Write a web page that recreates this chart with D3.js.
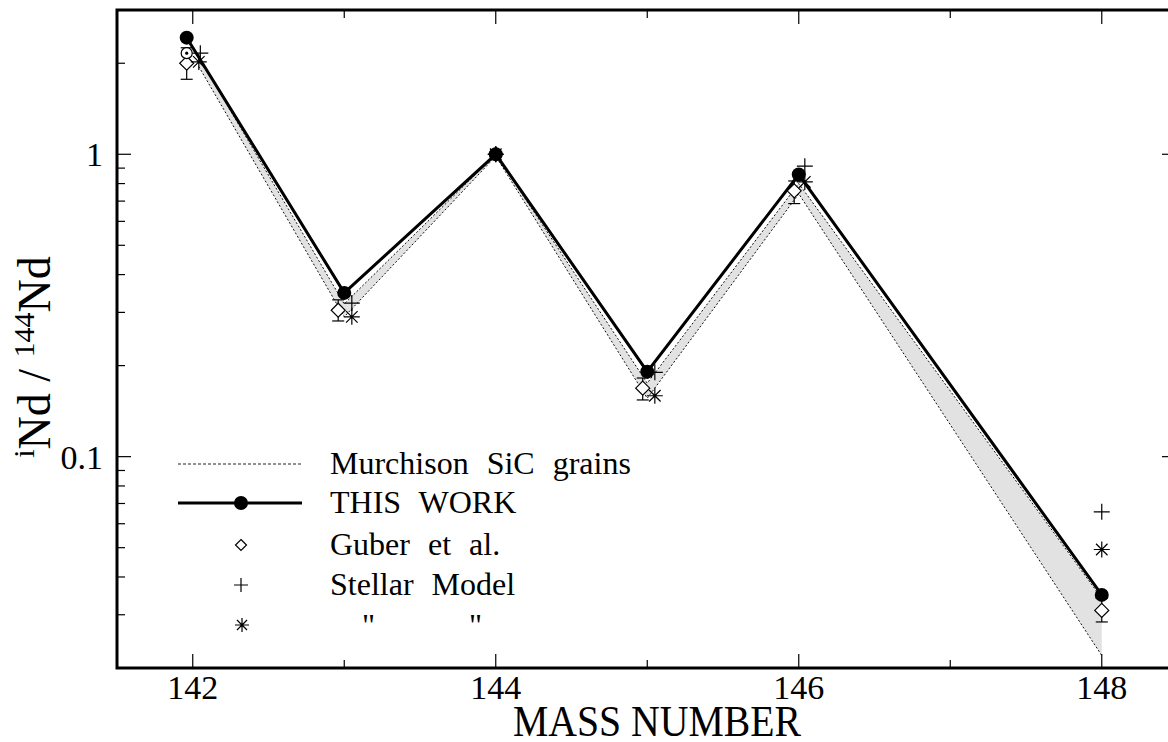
<!DOCTYPE html>
<meta charset="utf-8">
<html>
<head>
<style>
  body { margin: 0; background: #fff; }
  text { font-family: "Liberation Serif", "DejaVu Serif", serif; fill: #000; }
</style>
</head>
<body>
<div id="chart"></div>
<script src="https://d3js.org/d3.v7.min.js"></script>
<script>
  // ---- data ----
  var xMajorTicks = [142, 144, 146, 148];
  var xMinorTicks = [143, 145, 147];
  var yMajorTicks = [0.1, 1];
  var yMinorTicks = [0.02, 0.03, 0.04, 0.05, 0.06, 0.07, 0.08, 0.09,
                     0.2, 0.3, 0.4, 0.5, 0.6, 0.7, 0.8, 0.9, 2];

  // THIS WORK (filled circles, thick line)
  var massThisWork = [141.96, 143, 144, 145, 146, 148];
  var thisWork     = [2.43, 0.348, 1.0, 0.191, 0.857, 0.0349];

  // Guber et al. (open diamonds, error bars)
  var massGuber = [141.96, 142.96, 144, 144.97, 145.97, 148];
  var guber     = [2.0, 0.305, 1.0, 0.1685, 0.757, 0.031];
  var guberLow  = [1.77, 0.281, 0.98, 0.154, 0.687, 0.0284];
  var guberHigh = [2.25, 0.33, 1.02, 0.182, 0.816, 0.034];

  // Stellar model (+) and second stellar model (*)
  var massPlus = [142.05, 143.05, 144, 145.05, 146.04, 148];
  var plusVals = [2.16, 0.322, 1.0, 0.19, 0.913, 0.0657];
  var massStar = [142.04, 143.05, 144, 145.05, 146.04, 148];
  var starVals = [2.02, 0.29, 1.0, 0.159, 0.81, 0.0493];

  // Murchison SiC grains band
  var massMurchison = [142.04, 143, 144, 145, 146, 148];
  var murchisonHigh = [2.1, 0.32, 1.0, 0.175, 0.80, 0.034];
  var murchisonLow  = [1.95, 0.29, 0.985, 0.156, 0.74, 0.022];

  // dotted open circle at 142
  var massDotted = [141.96];
  var dottedVals = [2.16];

  // ---- layout ----
  var W = 1168, H = 742;
  var pL = 117, pR = 1176, pT = 10, pB = 668;

  var svg = d3.select("#chart").append("svg")
      .attr("width", W).attr("height", H);

  var x = d3.scaleLinear().domain([141.5, 148.49]).range([pL, pR]);
  var y = d3.scaleLog().domain([0.02, 3]).range([pB, pT]);

  function zip(ms, vs) { return ms.map(function(m, i) { return {m: m, v: vs[i]}; }); }

  // band
  var band = massMurchison.map(function(m, i) { return {m: m, lo: murchisonLow[i], hi: murchisonHigh[i]}; });
  svg.append("path")
    .datum(band)
    .attr("fill", "#e2e2e2")
    .attr("d", d3.area()
      .x(function(d) { return x(d.m); })
      .y0(function(d) { return y(d.lo); })
      .y1(function(d) { return y(d.hi); }));

  [murchisonHigh, murchisonLow].forEach(function(vals) {
    svg.append("path")
      .datum(zip(massMurchison, vals))
      .attr("fill", "none")
      .attr("stroke", "#111")
      .attr("stroke-width", 1)
      .attr("stroke-dasharray", "2,2")
      .attr("d", d3.line()
        .x(function(d) { return x(d.m); })
        .y(function(d) { return y(d.v); }));
  });

  // THIS WORK line
  svg.append("path")
    .datum(zip(massThisWork, thisWork))
    .attr("fill", "none")
    .attr("stroke", "#000")
    .attr("stroke-width", 3)
    .attr("d", d3.line()
      .x(function(d) { return x(d.m); })
      .y(function(d) { return y(d.v); }));

  // Guber error bars
  var gData = massGuber.map(function(m, i) { return {m: m, v: guber[i], lo: guberLow[i], hi: guberHigh[i]}; });
  var eb = svg.append("g").attr("stroke", "#000").attr("stroke-width", 1.2);
  gData.forEach(function(d) {
    var cx = x(d.m);
    eb.append("line").attr("x1", cx).attr("x2", cx).attr("y1", y(d.lo)).attr("y2", y(d.hi));
    eb.append("line").attr("x1", cx - 6).attr("x2", cx + 6).attr("y1", y(d.lo)).attr("y2", y(d.lo));
    eb.append("line").attr("x1", cx - 6).attr("x2", cx + 6).attr("y1", y(d.hi)).attr("y2", y(d.hi));
  });

  function diamondPath(cx, cy, s) {
    return "M" + cx + "," + (cy - s) + "L" + (cx + s) + "," + cy + "L" + cx + "," + (cy + s) + "L" + (cx - s) + "," + cy + "Z";
  }
  function plusPath(cx, cy, s) {
    return "M" + (cx - s) + "," + cy + "H" + (cx + s) + "M" + cx + "," + (cy - s) + "V" + (cy + s);
  }
  function starPath(cx, cy, s) {
    var d = s * 0.72;
    return plusPath(cx, cy, s) +
      "M" + (cx - d) + "," + (cy - d) + "L" + (cx + d) + "," + (cy + d) +
      "M" + (cx - d) + "," + (cy + d) + "L" + (cx + d) + "," + (cy - d);
  }

  svg.selectAll(".guber").data(gData).enter().append("path")
    .attr("fill", "#fff").attr("stroke", "#000").attr("stroke-width", 1.2)
    .attr("d", function(d) { return diamondPath(x(d.m), y(d.v), 7); });

  svg.selectAll(".dotted").data(zip(massDotted, dottedVals)).enter().append("circle")
    .attr("cx", function(d) { return x(d.m); }).attr("cy", function(d) { return y(d.v); })
    .attr("r", 5.5).attr("fill", "#fff").attr("stroke", "#000").attr("stroke-width", 1.2);
  svg.selectAll(".dotc").data(zip(massDotted, dottedVals)).enter().append("circle")
    .attr("cx", function(d) { return x(d.m); }).attr("cy", function(d) { return y(d.v); })
    .attr("r", 1.6).attr("fill", "#000");

  svg.selectAll(".plus").data(zip(massPlus, plusVals)).enter().append("path")
    .attr("fill", "none").attr("stroke", "#000").attr("stroke-width", 1.2)
    .attr("d", function(d) { return plusPath(x(d.m), y(d.v), 8); });

  svg.selectAll(".star").data(zip(massStar, starVals)).enter().append("path")
    .attr("fill", "none").attr("stroke", "#000").attr("stroke-width", 1.2)
    .attr("d", function(d) { return starPath(x(d.m), y(d.v), 8); });

  svg.selectAll(".tw").data(zip(massThisWork, thisWork)).enter().append("circle")
    .attr("cx", function(d) { return x(d.m); }).attr("cy", function(d) { return y(d.v); })
    .attr("r", 7).attr("fill", "#000");

  // ---- frame and ticks ----
  var ax = svg.append("g").attr("stroke", "#000");
  ax.append("rect")
    .attr("x", pL).attr("y", pT).attr("width", pR - pL).attr("height", pB - pT)
    .attr("fill", "none").attr("stroke-width", 3);

  function xTicks(vals, len) {
    vals.forEach(function(v) {
      ax.append("line").attr("x1", x(v)).attr("x2", x(v)).attr("y1", pB).attr("y2", pB - len).attr("stroke-width", 1.2);
      ax.append("line").attr("x1", x(v)).attr("x2", x(v)).attr("y1", pT).attr("y2", pT + len).attr("stroke-width", 1.2);
    });
  }
  xTicks(xMajorTicks, 14);
  xTicks(xMinorTicks, 8);

  yMajorTicks.forEach(function(v) {
    ax.append("line").attr("x1", pL).attr("x2", pL + 14).attr("y1", y(v)).attr("y2", y(v)).attr("stroke-width", 1.2);
    ax.append("line").attr("x1", pR).attr("x2", pR - 14).attr("y1", y(v)).attr("y2", y(v)).attr("stroke-width", 1.2);
  });
  yMinorTicks.forEach(function(v) {
    ax.append("line").attr("x1", pL).attr("x2", pL + 8).attr("y1", y(v)).attr("y2", y(v)).attr("stroke-width", 1.2);
  });

  svg.selectAll(".xl").data(xMajorTicks).enter().append("text")
    .attr("x", function(d) { return x(d); }).attr("y", 699)
    .attr("text-anchor", "middle").attr("font-size", 34)
    .text(function(d) { return d; });

  svg.selectAll(".yl").data(yMajorTicks).enter().append("text")
    .attr("x", 103).attr("y", function(d) { return y(d) + 12; })
    .attr("text-anchor", "end").attr("font-size", 34)
    .text(function(d) { return d; });

  svg.append("text")
    .attr("x", 657).attr("y", 736)
    .attr("text-anchor", "middle").attr("font-size", 44)
    .attr("textLength", 288).attr("lengthAdjust", "spacingAndGlyphs")
    .text("MASS  NUMBER");

  var yl = svg.append("text")
    .attr("transform", "translate(50,357) rotate(-90)")
    .attr("text-anchor", "middle").attr("font-size", 46);
  yl.append("tspan").attr("font-size", 30).attr("dy", -16).text("i");
  yl.append("tspan").attr("dy", 16).text("Nd / ");
  yl.append("tspan").attr("font-size", 30).attr("dy", -16).text("144");
  yl.append("tspan").attr("dy", 16).text("Nd");

  // ---- legend ----
  var lg = svg.append("g");
  var rows = [464, 503, 545, 585, 625];
  var labels = ["Murchison SiC grains", "THIS WORK", "Guber et al.", "Stellar Model"];
  lg.append("line").attr("x1", 178).attr("x2", 302).attr("y1", rows[0]).attr("y2", rows[0])
    .attr("stroke", "#222").attr("stroke-dasharray", "3,2").attr("stroke-width", 1);
  lg.append("line").attr("x1", 178).attr("x2", 302).attr("y1", rows[1]).attr("y2", rows[1])
    .attr("stroke", "#000").attr("stroke-width", 3);
  lg.append("circle").attr("cx", 241).attr("cy", rows[1]).attr("r", 7).attr("fill", "#000");
  lg.append("path").attr("d", diamondPath(241, rows[2], 5.5)).attr("fill", "#fff").attr("stroke", "#000").attr("stroke-width", 1.2);
  lg.append("path").attr("d", plusPath(241, rows[3], 7)).attr("stroke", "#000").attr("stroke-width", 1.2);
  lg.append("path").attr("d", starPath(242, rows[4], 7)).attr("stroke", "#000").attr("stroke-width", 1.2);
  labels.forEach(function(t, i) {
    lg.append("text").attr("x", 330).attr("y", rows[i] + 10).attr("font-size", 32)
      .attr("word-spacing", 10).text(t);
  });
  lg.append("text").attr("x", 362).attr("y", rows[4] + 11).attr("font-size", 32).text('"');
  lg.append("text").attr("x", 469).attr("y", rows[4] + 11).attr("font-size", 32).text('"');
</script>
</body>
</html>
